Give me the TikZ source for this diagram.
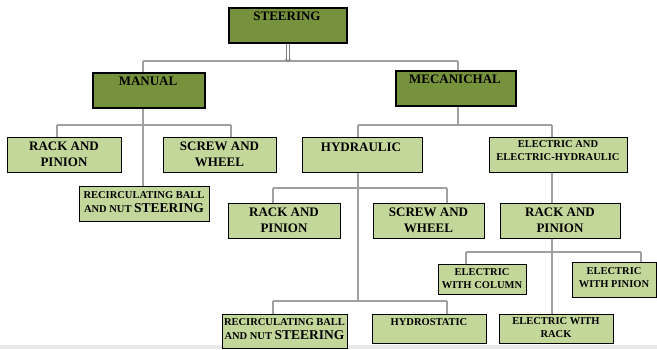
\documentclass[tikz,border=0pt]{standalone}
\usepackage{fontspec}
\setmainfont{Liberation Serif}
\usetikzlibrary{arrows.meta}
\definecolor{darkol}{RGB}{118,146,60}
\definecolor{lightol}{RGB}{196,215,155}
\definecolor{connc}{RGB}{160,160,160}
\definecolor{bandc}{RGB}{232,232,232}
\begin{document}
\begin{tikzpicture}[x=1pt,y=-1pt,
  box/.style={draw=black, line width=1.4pt, inner sep=0pt, anchor=north west},
  dbox/.style={box, fill=darkol, line width=1.6pt},
  lbox/.style={box, fill=lightol},
  bigt/.style={font=\fontsize{13}{16}\selectfont\bfseries, align=center, inner sep=0pt},
  smallt/.style={font=\fontsize{10.5}{13}\selectfont\bfseries, align=center, inner sep=0pt},
  rbt/.style={font=\fontsize{10.5}{14}\selectfont\bfseries, align=center, inner sep=0pt},
  connl/.style={draw=connc, line width=1.1pt},
]
\useasboundingbox (0,0) rectangle (657,349);
\fill[bandc] (0,345) rectangle (657,349);

% coordinates of connector junctions
\coordinate (j0) at (288,61);
\coordinate (jm) at (143,61);
\coordinate (jc) at (458,61);
\coordinate (ja) at (57,125);
\coordinate (jb) at (231,125);
\coordinate (jc2) at (458,125);
\coordinate (jh) at (358,125);
\coordinate (je) at (552,125);
\coordinate (jh1a) at (273,188);
\coordinate (jh1b) at (447,188);
\coordinate (jh2) at (358,301);
\coordinate (jh2a) at (273,301);
\coordinate (jh2b) at (447,301);
\coordinate (jra) at (466,252);
\coordinate (jrb) at (641,252);

% connectors
\draw[connl] (jm) -- (jc);
\draw[draw=gray, line width=0.7pt, double=white, double distance=2pt, -{Stealth[length=3pt,width=6pt,open]}] (288,42) coordinate (s0) -- ([yshift=-1pt]j0);
\draw[connl] (jm) -- (jm |- 0,72) coordinate (mt);
\draw[connl] (jc) -- (jc |- 0,70) coordinate (ct);
\draw[connl] (ja) -- (jb);
\draw[connl] (ja) -- (ja |- 0,137) coordinate (at);
\draw[connl] (jb) -- (jb |- 0,137) coordinate (bt);
\draw[connl] (jm |- 0,107) coordinate (mb) -- (jm |- 0,186) coordinate (rt);
\draw[connl] (jh) -- (je);
\draw[connl] (jc |- 0,105) coordinate (cb) -- (jc2);
\draw[connl] (jh) -- (jh |- 0,137) coordinate (ht);
\draw[connl] (je) -- (je |- 0,137) coordinate (et);
\draw[connl] (jh |- 0,172) coordinate (hb) -- (jh2);
\draw[connl] (jh1a) -- (jh1b);
\draw[connl] (jh1a) -- (jh1a |- 0,203) coordinate (r2t);
\draw[connl] (jh1b) -- (jh1b |- 0,203) coordinate (s2t);
\draw[connl] (jh2a) -- (jh2b);
\draw[connl] (jh2a) -- (jh2a |- 0,314) coordinate (rb2t);
\draw[connl] (jh2b) -- (jh2b |- 0,314) coordinate (hst);
\draw[connl] (je |- 0,172) coordinate (eb) -- (je |- 0,203) coordinate (r3t);
\draw[connl] (je |- 0,238) coordinate (r3b) -- (je |- 0,314) coordinate (ewrt);
\draw[connl] (jra) -- (jrb);
\draw[connl] (jra) -- (jra |- 0,264) coordinate (ewct);
\draw[connl] (jrb) -- (jrb |- 0,262) coordinate (ewpt);

% dark boxes
\node[dbox, minimum width=118pt, minimum height=35pt] (steering) at (228,7) {};
\node[bigt] (steeringt) at (287,16.5) {STEERING};
\node[dbox, minimum width=112pt, minimum height=35pt] (manual) at (92,72) {};
\node[bigt] (manualt) at (148,81.5) {MANUAL};
\node[dbox, minimum width=120pt, minimum height=35pt] (mec) at (395,70) {};
\node[bigt] (mect) at (455,79.5) {MECANICHAL};

% light boxes
\node[lbox, minimum width=114pt, minimum height=35pt] (rp1) at (7,137) {};
\node[bigt] (rp1t) at (64,154.5) {RACK AND\\PINION};
\node[lbox, minimum width=113pt, minimum height=35pt] (sw1) at (163,137) {};
\node[bigt] (sw1t) at (219.5,154.5) {SCREW AND\\WHEEL};
\node[lbox, minimum width=130pt, minimum height=35pt] (rb1) at (79,186) {};
\node[rbt] (rb1t) at (144,202) {RECIRCULATING BALL\\AND NUT {\fontsize{13.5}{14}\selectfont STEERING}};
\node[lbox, minimum width=120pt, minimum height=35pt] (hyd) at (302,137) {};
\node[bigt] (hydt) at (361,147) {HYDRAULIC};
\node[lbox, minimum width=138pt, minimum height=35pt] (eeh) at (489,137) {};
\node[smallt] (eeht) at (558,151) {ELECTRIC AND\\ELECTRIC-HYDRAULIC};
\node[lbox, minimum width=112pt, minimum height=35pt] (rp2) at (228,203) {};
\node[bigt] (rp2t) at (284,220.5) {RACK AND\\PINION};
\node[lbox, minimum width=111pt, minimum height=35pt] (sw2) at (373,203) {};
\node[bigt] (sw2t) at (428.5,220.5) {SCREW AND\\WHEEL};
\node[lbox, minimum width=120pt, minimum height=35pt] (rp3) at (500,203) {};
\node[bigt] (rp3t) at (560,220.5) {RACK AND\\PINION};
\node[lbox, minimum width=88pt, minimum height=30pt] (ewc) at (438,264) {};
\node[smallt] (ewct) at (482,279) {ELECTRIC\\WITH COLUMN};
\node[lbox, minimum width=84pt, minimum height=35pt] (ewp) at (572,262) {};
\node[smallt] (ewpt) at (614,277.5) {ELECTRIC\\WITH PINION};
\node[lbox, minimum width=125pt, minimum height=34pt] (rb2) at (222,314) {};
\node[rbt] (rb2t) at (284.5,329) {RECIRCULATING BALL\\AND NUT {\fontsize{13.5}{14}\selectfont STEERING}};
\node[lbox, minimum width=114pt, minimum height=29pt] (hs) at (372,314) {};
\node[smallt] (hst) at (429,322) {HYDROSTATIC};
\node[lbox, minimum width=114pt, minimum height=29pt] (ewr) at (499,314) {};
\node[smallt] (ewrt) at (556,328) {ELECTRIC WITH\\RACK};
\end{tikzpicture}
\end{document}
